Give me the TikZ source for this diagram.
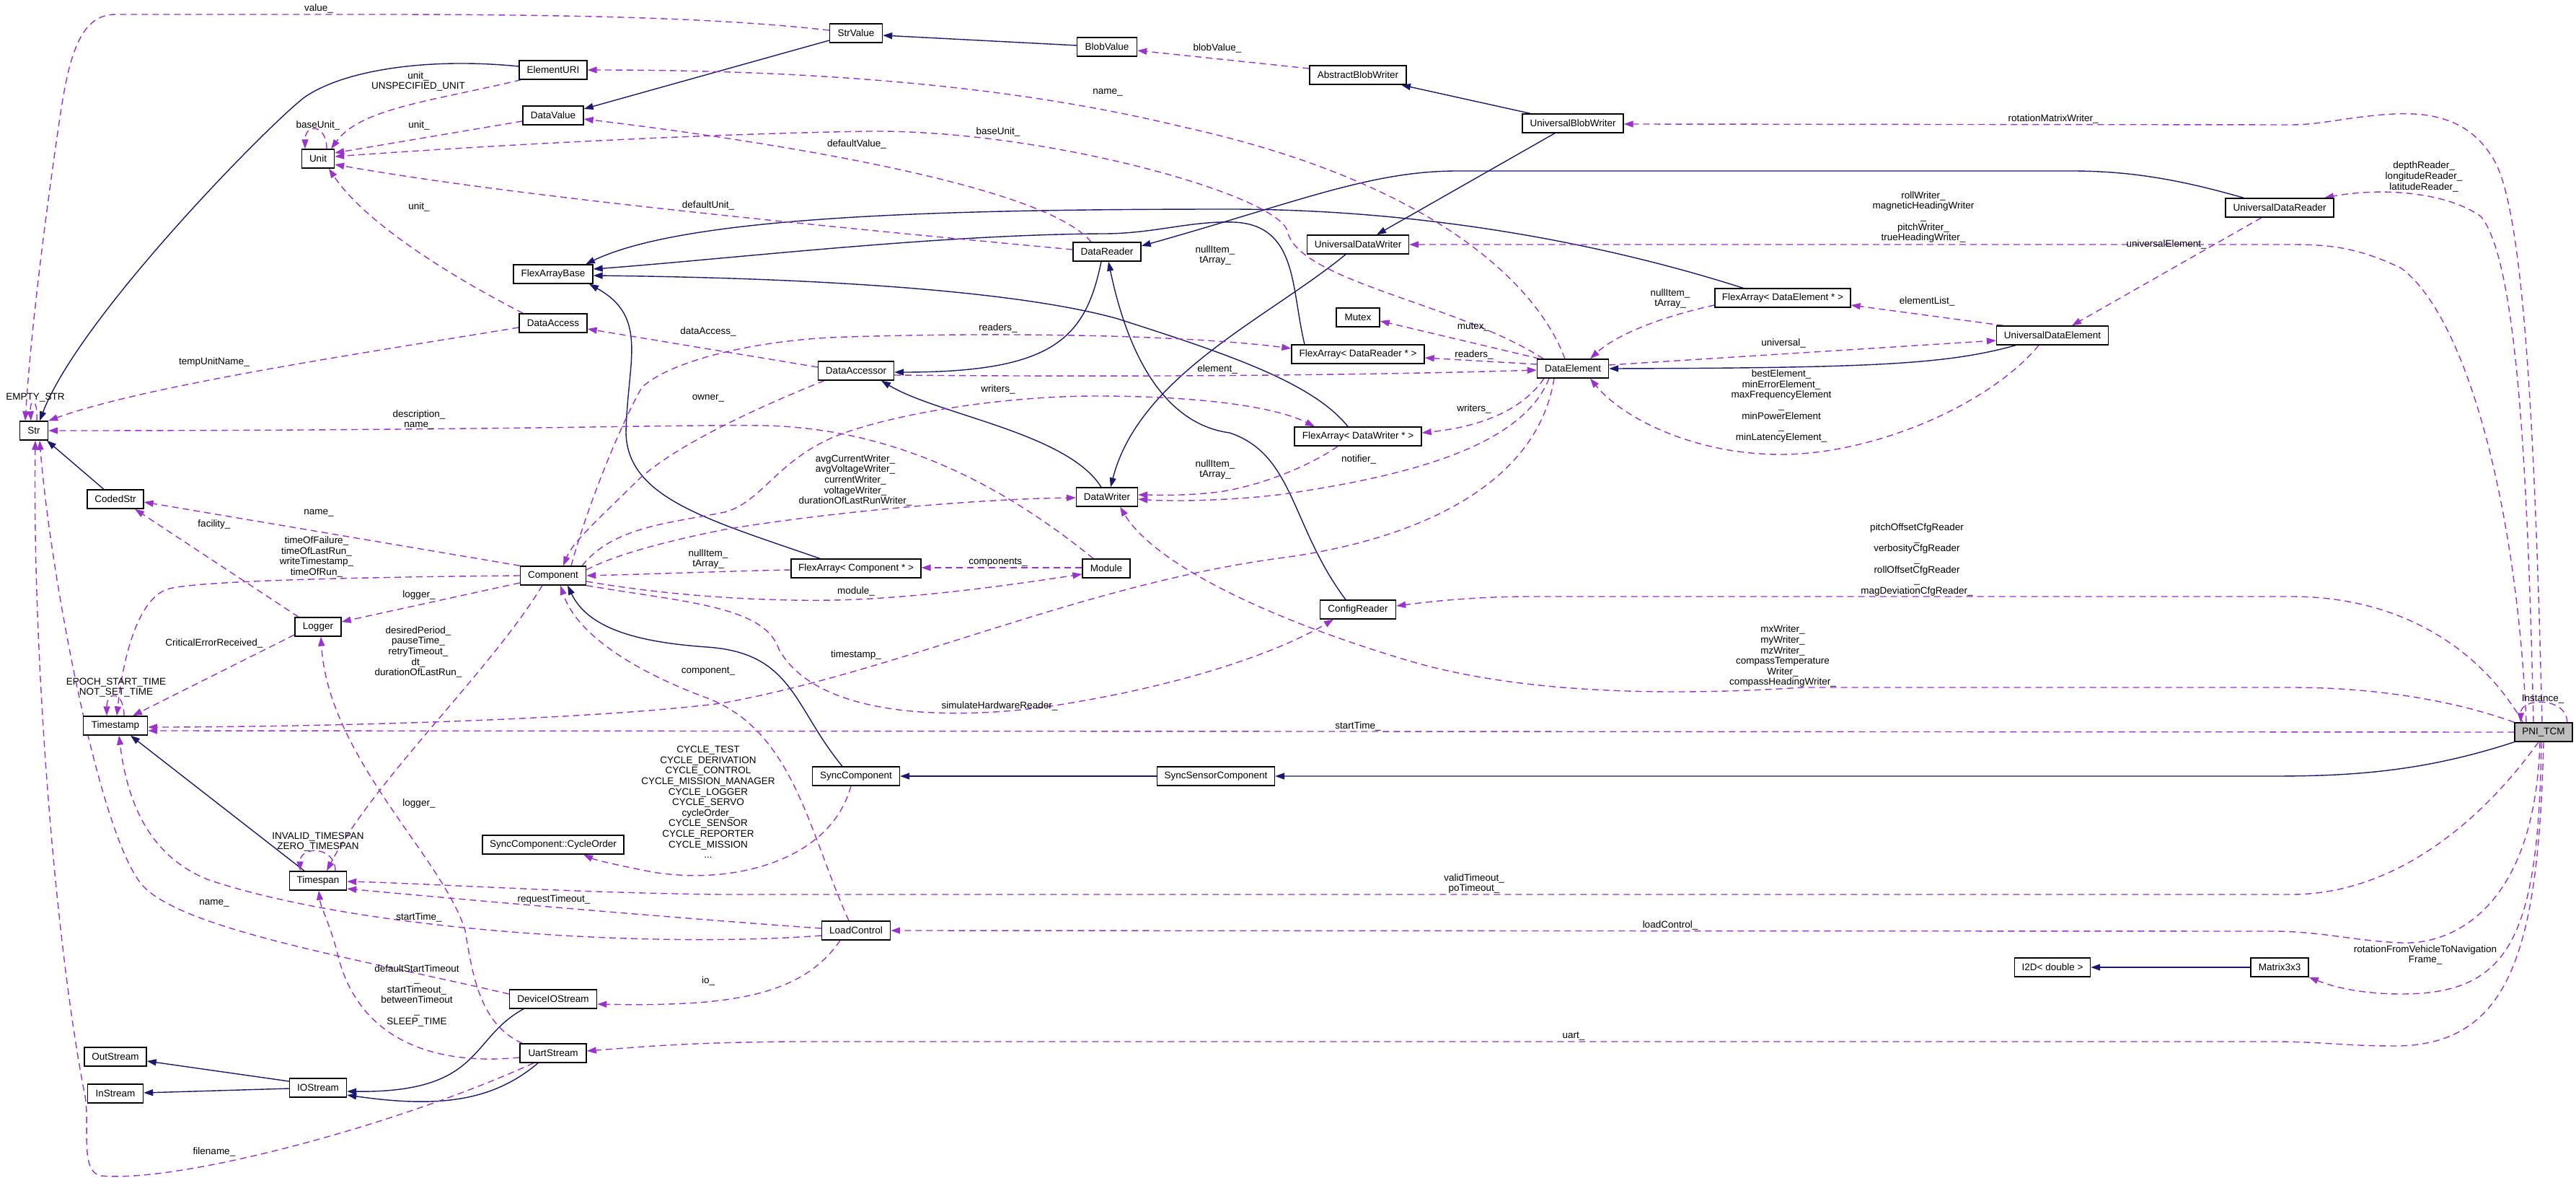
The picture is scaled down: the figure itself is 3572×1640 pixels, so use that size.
\documentclass[tikz,border=0pt]{standalone}
\usepackage{fontspec}
\setmainfont{Liberation Sans}
\usetikzlibrary{arrows.meta,calc}
\definecolor{depc}{HTML}{9A32CD}
\definecolor{inhc}{HTML}{191970}
\definecolor{pnifill}{HTML}{BFBFBF}
\pgfdeclarelayer{bg}
\pgfsetlayers{bg,main}
\tikzset{
 cls/.style={draw=black, line width=1.4pt, fill=white, minimum height=26pt, inner xsep=4pt, inner ysep=0pt, font=\fontsize{13.5pt}{14.6pt}\selectfont},
 lbl/.style={align=center, inner sep=0pt, font=\fontsize{13.5pt}{14.6pt}\selectfont},
 dep/.style={draw=depc, line width=1.4pt, dash pattern=on 9pt off 6pt, -{Triangle[length=13pt,width=9pt,fill=depc]}},
 inh/.style={draw=inhc, line width=1.4pt, -{Triangle[length=13pt,width=9pt,fill=inhc]}},
}
\begin{document}
\begin{tikzpicture}[x=1pt,y=-1pt]
\useasboundingbox (0,0) rectangle (3572,1640);
% ---------------- nodes
\node[cls,minimum width=39pt] (Str) at (47,597) {Str};
\node[cls,minimum width=45pt] (Unit) at (441,220) {Unit};
\node[cls,minimum width=94pt] (ElementURI) at (767,97) {ElementURI};
\node[cls,minimum width=84pt] (DataValue) at (767,160) {DataValue};
\node[cls,minimum width=110pt] (FlexArrayBase) at (767,380) {FlexArrayBase};
\node[cls,minimum width=94pt] (DataAccess) at (767,448) {DataAccess};
\node[cls,minimum width=78pt] (CodedStr) at (160,692) {CodedStr};
\node[cls,minimum width=91pt] (Component) at (767,798) {Component};
\node[cls,minimum width=64pt] (Logger) at (441,869) {Logger};
\node[cls,minimum width=89pt] (Timestamp) at (160,1006) {Timestamp};
\node[cls,minimum width=79pt] (Timespan) at (441,1221) {Timespan};
\node[cls,minimum width=196pt] (CycleOrder) at (767,1171) {SyncComponent::CycleOrder};
\node[cls,minimum width=121pt] (DeviceIOStream) at (767,1385) {DeviceIOStream};
\node[cls,minimum width=92pt] (UartStream) at (767,1460) {UartStream};
\node[cls,minimum width=86pt] (OutStream) at (160,1465) {OutStream};
\node[cls,minimum width=77pt] (InStream) at (160,1516) {InStream};
\node[cls,minimum width=79pt] (IOStream) at (441,1508) {IOStream};
\node[cls,minimum width=73pt] (StrValue) at (1187,46) {StrValue};
\node[cls,minimum width=83pt] (BlobValue) at (1535,65) {BlobValue};
\node[cls,minimum width=94pt] (DataReader) at (1535,349) {DataReader};
\node[cls,minimum width=105pt] (DataAccessor) at (1187,514) {DataAccessor};
\node[cls,minimum width=134pt] (AbstractBlobWriter) at (1883,104) {AbstractBlobWriter};
\node[cls,minimum width=140pt] (UniversalBlobWriter) at (2181,171) {UniversalBlobWriter};
\node[cls,minimum width=141pt] (UniversalDataWriter) at (1883,339) {UniversalDataWriter};
\node[cls,minimum width=60pt] (Mutex) at (1883,440) {Mutex};
\node[cls,minimum width=184pt] (FADR) at (1883,491) {FlexArray< DataReader * >};
\node[cls,minimum width=99pt] (DataElement) at (2181,511) {DataElement};
\node[cls,minimum width=188pt] (FADE) at (2472,413) {FlexArray< DataElement * >};
\node[cls,minimum width=150pt] (UDR) at (3161,288) {UniversalDataReader};
\node[cls,minimum width=155pt] (UDE) at (2846,465) {UniversalDataElement};
\node[cls,minimum width=85pt] (DataWriter) at (1535,689) {DataWriter};
\node[cls,minimum width=180pt] (FAC) at (1187,788) {FlexArray< Component * >};
\node[cls,minimum width=66pt] (Module) at (1534,788) {Module};
\node[cls,minimum width=121pt] (SyncComponent) at (1187,1076) {SyncComponent};
\node[cls,minimum width=163pt] (SSC) at (1686,1076) {SyncSensorComponent};
\node[cls,minimum width=95pt] (LoadControl) at (1187,1290) {LoadControl};
\node[cls,minimum width=176pt] (FADW) at (1883,605) {FlexArray< DataWriter * >};
\node[cls,minimum width=105pt] (ConfigReader) at (1883,845) {ConfigReader};
\node[cls,minimum width=80pt,fill=pnifill] (PNI) at (3527,1015) {PNI\_TCM};
\node[cls,minimum width=105pt] (I2D) at (2846,1341) {I2D< double >};
\node[cls,minimum width=80pt] (Matrix) at (3161,1341) {Matrix3x3};
% ---------------- edges
\begin{pgfonlayer}{bg}
\fill[white] (0,0) rectangle (3572,1640);
% inheritance
\draw[inh] ($(ElementURI.west)+(0,-5)$) .. controls (600,80) and (480,95) .. (422,135) .. controls (370,175) and (110,440) .. ($(Str.north)+(8,0)$);
\draw[inh] ($(StrValue.west)+(0,10)$) -- ($(DataValue.east)+(0,-9)$);
\draw[inh] ($(BlobValue.west)+(0,-2)$) -- ($(StrValue.east)+(0,3)$);
\draw[inh] ($(UniversalBlobWriter.north)+(-59,0)$) -- ($(AbstractBlobWriter.south)+(60,0)$);
\draw[inh] ($(UniversalBlobWriter.south)+(-25,0)$) -- ($(UniversalDataWriter.north)+(26,0)$);
\draw[inh] ($(UniversalDataWriter.south)+(-17,0)$) .. controls (1760,440) and (1580,520) .. ($(DataWriter.north)+(5,0)$);
\draw[inh] ($(UDR.north)+(-50,0)$) .. controls (3020,248) and (2950,237) .. (2873,237) -- (2021,237) .. controls (1900,237) and (1800,280) .. ($(DataReader.east)+(0,-8)$);
\draw[inh] ($(FADE.north)+(-55,0)$) .. controls (2200,330) and (1950,290) .. (1705,290) .. controls (1300,290) and (950,300) .. ($(FlexArrayBase.north)+(45,0)$);
\draw[inh] ($(FADR.north)+(-74,0)$) .. controls (1790,400) and (1800,312) .. (1711,308) .. controls (1650,306) and (1600,324) .. (1530,324) .. controls (1300,325) and (1000,360) .. ($(FlexArrayBase.east)+(0,-7)$);
\draw[inh] ($(FADW.north)+(-14,0)$) .. controls (1820,530) and (1700,490) .. (1550,442) .. controls (1400,400) and (1100,385) .. ($(FlexArrayBase.east)+(0,2)$);
\draw[inh] ($(FAC.north)+(-50,0)$) .. controls (980,720) and (870,690) .. (868,600) .. controls (870,500) and (900,440) .. ($(FlexArrayBase.south)+(50,0)$);
\draw[inh] ($(DataReader.south)+(-8,0)$) .. controls (1505,470) and (1460,516) .. ($(DataAccessor.east)+(0,2)$);
\draw[inh] ($(DataWriter.north)+(-8,0)$) .. controls (1480,600) and (1300,575) .. ($(DataAccessor.south)+(35,0)$);
\draw[inh] ($(ConfigReader.north)+(-17,0)$) .. controls (1790,730) and (1795,630) .. (1705,600) .. controls (1630,590) and (1570,520) .. ($(DataReader.south)+(2,0)$);
\draw[inh] ($(UDE.south)+(-51,0)$) .. controls (2700,505) and (2600,510) .. (DataElement.east);
\draw[inh] ($(SyncComponent.north)+(-19,0)$) .. controls (1100,980) and (1100,905) .. (980,897) .. controls (880,890) and (815,870) .. ($(Component.south)+(20,0)$);
\draw[inh] (SSC.west) -- (SyncComponent.east);
\draw[inh] (PNI.south west) .. controls (3360,1070) and (3260,1076) .. (3150,1076) -- (SSC.east);
\draw[inh] (Matrix.west) -- (I2D.east);
\draw[inh] ($(DeviceIOStream.south)+(-41,0)$) .. controls (650,1440) and (670,1515) .. ($(IOStream.east)+(0,5)$);
\draw[inh] ($(UartStream.south)+(-21,0)$) .. controls (680,1530) and (600,1535) .. ($(IOStream.east)+(0,10)$);
\draw[inh] ($(IOStream.west)+(0,-9)$) -- ($(OutStream.east)+(0,6)$);
\draw[inh] ($(IOStream.west)+(0,1)$) -- ($(InStream.east)+(0,-1)$);
\draw[inh] ($(CodedStr.north)+(-16,0)$) -- ($(Str.south)+(18,0)$);
\draw[inh] ($(Timespan.north)+(-19,0)$) -- ($(Timestamp.south)+(21,0)$);
% usage
\draw[dep] ($(StrValue.west)+(0,-4)$) .. controls (1000,25) and (800,20) .. (517,20) -- (160,20) .. controls (110,20) and (95,80) .. (82,170) .. controls (60,320) and (42,470) .. ($(Str.north)+(-12,0)$);
\draw[dep] ($(Module.north)+(-18,0)$) .. controls (1400,680) and (1250,595) .. (1062,590) .. controls (950,588) and (700,597) .. (Str.east);
\draw[dep] ($(DataAccess.west)+(0,6)$) .. controls (500,490) and (200,535) .. (Str.north east);
\draw[dep] ($(UartStream.south)+(-27,0)$) .. controls (550,1560) and (250,1640) .. (140,1630) .. controls (110,1625) and (125,1560) .. (118,1520) .. controls (75,1300) and (45,900) .. ($(Str.south)+(2,0)$);
\draw[dep] ($(DeviceIOStream.west)+(0,-7)$) .. controls (500,1330) and (260,1290) .. (200,1230) .. controls (140,1170) and (70,800) .. ($(Str.south)+(8,0)$);
\draw[dep] ($(LoadControl.west)+(0,7)$) .. controls (900,1315) and (500,1290) .. (290,1220) .. controls (200,1185) and (175,1100) .. ($(Timestamp.south)+(5,0)$);
\draw[dep] ($(Str.north)+(4,0)$) .. controls +(2,-32) and +(-2,-32) .. ($(Str.north)+(-4,0)$);
\draw[dep] (Component.north west) -- ($(CodedStr.east)+(0,4)$);
\draw[dep] ($(Logger.north)+(-27,0)$) -- ($(CodedStr.south)+(27,0)$);
\draw[dep] (Component.west) .. controls (500,800) and (280,805) .. (235,816) .. controls (195,826) and (172,900) .. ($(Timestamp.north)+(2,0)$);
\draw[dep] ($(Logger.west)+(0,11)$) -- ($(Timestamp.north)+(24,0)$);
\draw[dep] ($(Timestamp.north)+(12,0)$) .. controls +(0,-35) and +(0,-35) .. ($(Timestamp.north)+(-12,0)$);
\draw[dep] ($(Component.west)+(0,10)$) -- ($(Logger.east)+(0,-7)$);
\draw[dep] ($(UartStream.north west)+(4,0)$) .. controls (665,1420) and (655,1350) .. (645,1290) .. controls (615,1190) and (455,1050) .. ($(Logger.south)+(4,0)$);
\draw[dep] ($(Component.south)+(-15,0)$) .. controls (680,930) and (520,1080) .. ($(Timespan.north)+(12,0)$);
\draw[dep] ($(Timespan.north)+(24,0)$) .. controls +(0,-35) and +(0,-35) .. ($(Timespan.north)+(-25,0)$);
\draw[dep] ($(PNI.south)+(-7,0)$) .. controls (3440,1140) and (3320,1240) .. (3177,1240) -- (1000,1240) .. controls (800,1238) and (600,1225) .. ($(Timespan.east)+(0,1)$);
\draw[dep] ($(LoadControl.west)+(0,-3)$) .. controls (900,1270) and (620,1245) .. ($(Timespan.east)+(0,11)$);
\draw[dep] ($(UartStream.west)+(0,6)$) .. controls (600,1478) and (500,1440) .. (470,1330) .. controls (458,1280) and (445,1260) .. ($(Timespan.south)+(1,0)$);
\draw[dep] ($(LoadControl.south)+(-22,0)$) .. controls (1110,1385) and (1000,1395) .. ($(DeviceIOStream.east)+(0,7)$);
\draw[dep] ($(LoadControl.north)+(-10,0)$) .. controls (1120,1150) and (1100,1010) .. (976,966) .. controls (880,930) and (800,880) .. ($(Component.south)+(10,0)$);
\draw[dep] ($(SyncComponent.south)+(-7,0)$) .. controls (1150,1200) and (1000,1230) .. (890,1206) .. controls (850,1198) and (825,1192) .. ($(CycleOrder.south)+(42,0)$);
\draw[dep] ($(PNI.south)+(-5,0)$) .. controls (3515,1260) and (3400,1310) .. (3330,1307) .. controls (3260,1304) and (3220,1291) .. (3150,1291) -- (LoadControl.east);
\draw[dep] ($(PNI.south)+(-3,0)$) .. controls (3520,1300) and (3480,1378) .. (3330,1378) .. controls (3280,1378) and (3240,1370) .. (Matrix.south east);
\draw[dep] (PNI.south) .. controls (3520,1320) and (3480,1450) .. (3320,1450) .. controls (3250,1450) and (3220,1444) .. (3150,1444) -- (1100,1444) .. controls (950,1445) and (880,1452) .. ($(UartStream.east)+(0,-3)$);
\draw[dep] (PNI.west) -- ($(Timestamp.east)+(0,7)$);
\draw[dep] ($(DataElement.south)+(-26,0)$) .. controls (2130,680) and (1950,750) .. (1780,773) .. controls (1500,810) and (1250,930) .. (1000,975) .. controls (800,1000) and (400,1008) .. ($(Timestamp.east)+(0,2)$);
\draw[dep] (Component.south east) .. controls (950,835) and (1060,840) .. (1080,900) .. controls (1130,990) and (1300,1000) .. (1450,980) .. controls (1650,950) and (1780,900) .. ($(ConfigReader.south)+(-34,0)$);
\draw[dep] ($(DataElement.north)+(-11,0)$) .. controls (2130,390) and (1980,250) .. (1636,175) .. controls (1450,130) and (1200,97) .. (ElementURI.east);
\draw[dep] ($(ElementURI.south west)+(3,0)$) .. controls (600,140) and (500,150) .. ($(Unit.north)+(18,0)$);
\draw[dep] ($(DataValue.west)+(0,8)$) -- ($(Unit.east)+(0,-8)$);
\draw[dep] ($(Unit.north)+(12,0)$) .. controls +(0,-35) and +(0,-35) .. ($(Unit.north)+(-18,0)$);
\draw[dep] ($(DataElement.north)+(-41,0)$) .. controls (2020,420) and (1800,390) .. (1785,320) .. controls (1770,270) and (1450,180) .. (1206,182) .. controls (1000,185) and (700,200) .. ($(Unit.east)+(0,-3)$);
\draw[dep] ($(DataAccess.north west)+(6,0)$) .. controls (600,370) and (500,300) .. ($(Unit.south)+(15,0)$);
\draw[dep] ($(DataReader.west)+(0,-3)$) .. controls (1100,310) and (700,270) .. ($(Unit.east)+(0,8)$);
\draw[dep] ($(DataReader.north)+(-22,0)$) .. controls (1450,260) and (1100,200) .. ($(DataValue.east)+(0,5)$);
\draw[dep] ($(AbstractBlobWriter.west)+(0,-9)$) -- ($(BlobValue.east)+(0,5)$);
\draw[dep] ($(PNI.north)+(-2,0)$) .. controls (3515,600) and (3500,300) .. (3460,225) .. controls (3430,170) and (3380,155) .. (3320,158) .. controls (3260,161) and (3220,173) .. (3177,173) -- ($(UniversalBlobWriter.east)+(0,1)$);
\draw[dep] ($(PNI.north)+(-14,0)$) .. controls (3505,650) and (3490,360) .. (3440,300) .. controls (3390,265) and (3300,260) .. ($(UDR.north)+(62,0)$);
\draw[dep] ($(UDR.south)+(-25,0)$) -- ($(UDE.north)+(27,0)$);
\draw[dep] ($(PNI.north)+(-24,0)$) .. controls (3490,700) and (3420,440) .. (3330,372) .. controls (3270,343) and (3230,339) .. (3177,339) -- (UniversalDataWriter.east);
\draw[dep] ($(DataAccessor.east)+(0,6)$) .. controls (1600,523) and (1900,520) .. ($(DataElement.west)+(0,2)$);
\draw[dep] ($(DataElement.west)+(0,-6)$) -- ($(FADR.east)+(0,5)$);
\draw[dep] ($(Component.north)+(25,0)$) .. controls (815,700) and (860,590) .. (890,537) .. controls (930,500) and (1050,470) .. (1177,467) .. controls (1400,460) and (1650,465) .. ($(FADR.west)+(0,-8)$);
\draw[dep] ($(DataAccessor.south)+(-44,0)$) .. controls (1050,565) and (930,620) .. (880,670) .. controls (830,720) and (795,750) .. ($(Component.north)+(14,0)$);
\draw[dep] ($(Component.north east)+(-6,0)$) .. controls (850,730) and (930,725) .. (1005,710) .. controls (1060,695) and (1080,630) .. (1177,598) .. controls (1260,570) and (1400,549) .. (1521,549) .. controls (1640,549) and (1760,560) .. ($(FADW.north)+(-60,0)$);
\draw[dep] ($(Component.east)+(0,-8)$) .. controls (860,765) and (950,745) .. (1005,734) .. controls (1150,710) and (1350,692) .. ($(DataWriter.west)+(0,1)$);
\draw[dep] ($(FAC.west)+(0,2)$) .. controls (1000,792) and (900,796) .. (Component.east);
\draw[dep] ($(Component.east)+(0,8)$) .. controls (950,830) and (1100,835) .. (1187,831) .. controls (1300,826) and (1420,808) .. ($(Module.west)+(0,8)$);
\draw[dep] ($(Module.west)+(0,-1)$) -- ($(FAC.east)+(0,-1)$);
\draw[dep] ($(DataAccessor.west)+(0,-5)$) -- ($(DataAccess.east)+(0,8)$);
\draw[dep] ($(DataElement.north west)+(4,0)$) -- ($(Mutex.east)+(0,5)$);
\draw[dep] ($(FADE.west)+(0,10)$) .. controls (2300,440) and (2240,465) .. ($(DataElement.north)+(24,0)$);
\draw[dep] ($(DataElement.east)+(0,-5)$) -- ($(UDE.west)+(0,7)$);
\draw[dep] ($(UDE.north west)+(10,0)$) -- ($(FADE.east)+(0,10)$);
\draw[dep] ($(UDE.south)+(-19,0)$) .. controls (2760,560) and (2600,630) .. (2469,630) .. controls (2350,630) and (2250,580) .. ($(DataElement.south)+(24,0)$);
\draw[dep] ($(DataElement.south)+(-40,0)$) .. controls (2110,570) and (2050,592) .. ($(FADW.east)+(0,-5)$);
\draw[dep] ($(DataElement.south)+(-33,0)$) .. controls (2110,620) and (1950,660) .. (1780,685) .. controls (1700,695) and (1620,695) .. ($(DataWriter.east)+(0,3)$);
\draw[dep] ($(FADW.south)+(-28,0)$) .. controls (1810,650) and (1740,675) .. (1690,682) .. controls (1640,688) and (1600,686) .. ($(DataWriter.east)+(0,-3)$);
\draw[dep] (PNI.north west) .. controls (3400,970) and (3290,953) .. (3177,953) -- (2500,953) .. controls (2300,966) and (2100,960) .. (1950,915) .. controls (1750,855) and (1600,780) .. ($(DataWriter.south)+(18,0)$);
\draw[dep] ($(PNI.north west)+(12,0)$) .. controls (3440,900) and (3330,827) .. (3177,827) -- (2124,827) .. controls (2050,827) and (1990,833) .. ($(ConfigReader.east)+(0,-5)$);
\draw[dep] ($(PNI.north east)+(-8,0)$) .. controls +(0,-35) and +(0,-35) .. ($(PNI.north west)+(9,0)$);
\end{pgfonlayer}
% ---------------- labels
\node[lbl] (t1) at (442,12) {value\_};
\node[lbl] (t2) at (580,113) {unit\_\\UNSPECIFIED\_UNIT};
\node[lbl] (t3) at (441,174) {baseUnit\_};
\node[lbl] (t4) at (581,174) {unit\_};
\node[lbl] (t5) at (581,287) {unit\_};
\node[lbl] (t6) at (297,502) {tempUnitName\_};
\node[lbl] (t7) at (1688,67) {blobValue\_};
\node[lbl] (t8) at (1536,128) {name\_};
\node[lbl] (t9) at (1384,183) {baseUnit\_};
\node[lbl] (t10) at (1188,200) {defaultValue\_};
\node[lbl] (t11) at (982,285) {defaultUnit\_};
\node[lbl] (t12) at (1685,354) {nullItem\_\\tArray\_};
\node[lbl] (t13) at (982,460) {dataAccess\_};
\node[lbl] (t14) at (1384,455) {readers\_};
\node[lbl] (t15) at (1688,512) {element\_};
\node[lbl] (t16) at (1384,540) {writers\_};
\node[lbl] (t17) at (2847,165) {rotationMatrixWriter\_};
\node[lbl] (t18) at (3361,245) {depthReader\_\\longitudeReader\_\\latitudeReader\_};
\node[lbl] (t19) at (3004,339) {universalElement\_};
\node[lbl] (t20) at (2667,301) {rollWriter\_\\magneticHeadingWriter\\\_\\pitchWriter\_\\trueHeadingWriter\_};
\node[lbl] (t21) at (2672,418) {elementList\_};
\node[lbl] (t22) at (2316,414) {nullItem\_\\tArray\_};
\node[lbl] (t23) at (2043,453) {mutex\_};
\node[lbl] (t24) at (2044,492) {readers\_};
\node[lbl] (t25) at (2473,476) {universal\_};
\node[lbl] (t26) at (2470,563) {bestElement\_\\minErrorElement\_\\maxFrequencyElement\\\_\\minPowerElement\\\_\\minLatencyElement\_};
\node[lbl] (t27) at (2044,567) {writers\_};
\node[lbl] (t28) at (1884,637) {notifier\_};
\node[lbl] (t29) at (2658,776) {pitchOffsetCfgReader\\\_\\verbosityCfgReader\\\_\\rollOffsetCfgReader\\\_\\magDeviationCfgReader\_};
\node[lbl] (t30) at (2472,910) {mxWriter\_\\myWriter\_\\mzWriter\_\\compassTemperature\\Writer\_\\compassHeadingWriter\_};
\node[lbl] (t31) at (1883,1007) {startTime\_};
\node[lbl] (t32) at (3526,969) {Instance\_};
\node[lbl] (t33) at (49,551) {EMPTY\_STR};
\node[lbl] (t34) at (581,582) {description\_\\name\_};
\node[lbl] (t35) at (442,711) {name\_};
\node[lbl] (t36) at (297,727) {facility\_};
\node[lbl] (t37) at (439,772) {timeOfFailure\_\\timeOfLastRun\_\\writeTimestamp\_\\timeOfRun\_};
\node[lbl] (t38) at (581,825) {logger\_};
\node[lbl] (t39) at (580,904) {desiredPeriod\_\\pauseTime\_\\retryTimeout\_\\dt\_\\durationOfLastRun\_};
\node[lbl] (t40) at (297,892) {CriticalErrorReceived\_};
\node[lbl] (t41) at (161,953) {EPOCH\_START\_TIME\\NOT\_SET\_TIME};
\node[lbl] (t42) at (982,552) {owner\_};
\node[lbl] (t43) at (1186,666) {avgCurrentWriter\_\\avgVoltageWriter\_\\currentWriter\_\\voltageWriter\_\\durationOfLastRunWriter\_};
\node[lbl] (t44) at (1685,651) {nullItem\_\\tArray\_};
\node[lbl] (t45) at (982,775) {nullItem\_\\tArray\_};
\node[lbl] (t46) at (1384,780) {components\_};
\node[lbl] (t47) at (1187,820) {module\_};
\node[lbl] (t48) at (1187,908) {timestamp\_};
\node[lbl] (t49) at (982,931) {component\_};
\node[lbl] (t50) at (1386,979) {simulateHardwareReader\_};
\node[lbl] (t51) at (982,1112) {CYCLE\_TEST\\CYCLE\_DERIVATION\\CYCLE\_CONTROL\\CYCLE\_MISSION\_MANAGER\\CYCLE\_LOGGER\\CYCLE\_SERVO\\cycleOrder\_\\CYCLE\_SENSOR\\CYCLE\_REPORTER\\CYCLE\_MISSION\\...};
\node[lbl] (t52) at (581,1114) {logger\_};
\node[lbl] (t53) at (441,1167) {INVALID\_TIMESPAN\\ZERO\_TIMESPAN};
\node[lbl] (t54) at (297,1252) {name\_};
\node[lbl] (t55) at (768,1247) {requestTimeout\_};
\node[lbl] (t56) at (581,1272) {startTime\_};
\node[lbl] (t57) at (578,1380) {defaultStartTimeout\\\_\\startTimeout\_\\betweenTimeout\\\_\\SLEEP\_TIME};
\node[lbl] (t58) at (982,1360) {io\_};
\node[lbl] (t59) at (297,1597) {filename\_};
\node[lbl] (t60) at (2044,1225) {validTimeout\_\\poTimeout\_};
\node[lbl] (t61) at (2316,1283) {loadControl\_};
\node[lbl] (t62) at (2182,1436) {uart\_};
\node[lbl] (t63) at (3363,1324) {rotationFromVehicleToNavigation\\Frame\_};
\end{tikzpicture}
\end{document}
